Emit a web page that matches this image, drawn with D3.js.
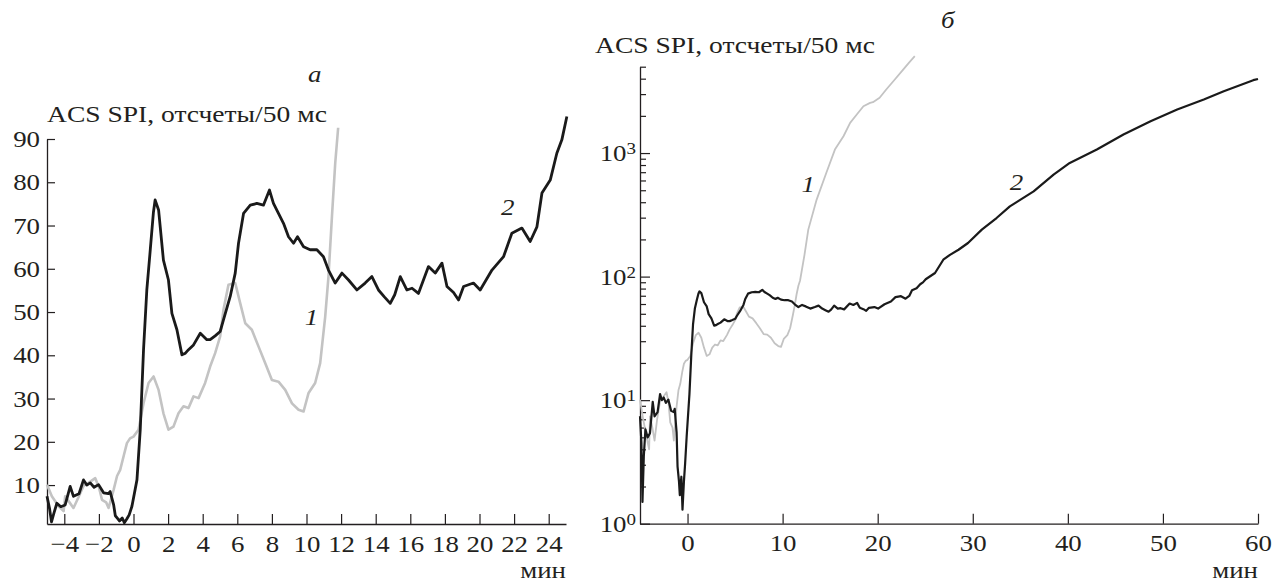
<!DOCTYPE html>
<html>
<head>
<meta charset="utf-8">
<script src="https://cdn.jsdelivr.net/npm/d3@7"></script>
<style>
body { margin: 0; background: #fff; }
</style>
</head>
<body>
<div class="canvas"></div>
<script>
// curve 1 (grey): minutes / counts per 50 ms
const time1 = [-5.0, -4.72, -4.33, -4.04, -3.95, -3.7, -3.47, -3.2, -2.89, -2.6, -2.21, -2.0, -1.82, -1.58, -1.44,
    -1.15, -0.95, -0.77, -0.55, -0.38, -0.2, 0, 0.29, 0.58, 0.87, 1.16, 1.45, 1.73, 2.02, 2.31, 2.6, 2.89, 3.18,
    3.47, 3.76, 4.14, 4.43, 4.72, 5.01, 5.2, 5.49, 5.88, 6.17, 6.46, 6.84, 7.23, 7.61, 8.0, 8.38, 8.77, 9.16, 9.54,
    9.83, 10.12, 10.5, 10.79, 11.08, 11.27, 11.47, 11.66, 11.83, 12.3, 12.7, 13.58, 14.6, 15.5, 16.4, 17.1, 17.8,
    18.5, 19.2, 19.5, 20.2, 20.9, 21.8, 22.7, 23.3, 23.9];
const counts1 = [10.1, 7.4, 5.1, 4.0, 7.4, 6.0, 4.7, 7.0, 9.8, 10.5, 11.6, 9.5, 6.6, 6.0, 4.7,
    8.9, 12.1, 13.5, 17, 19.7, 20.8, 21.2, 22.8, 28.9, 33.6, 35.1, 32, 26.6, 22.8, 23.5, 26.6, 28.2, 27.8,
    30.5, 30.1, 33.6, 37.4, 40.5, 44.4, 50.5, 56.3, 56.7, 52, 47.4, 45.9, 42, 38.2, 34.3, 33.9, 32, 28.9, 27.4,
    27, 31.3, 33.6, 38.2, 48.9, 58.2, 72, 84.4, 92.6, 150, 240, 420, 692, 1067, 1368, 1757, 2050,
    2393, 2550, 2580, 2800, 3270, 3940, 4750, 5400, 6080];

// curve 2 (black)
const time2 = [-5.0, -4.85, -4.74, -4.6, -4.43, -4.2, -3.95, -3.66, -3.47, -3.15, -2.89, -2.7, -2.5, -2.28, -2.02,
    -1.73, -1.45, -1.35, -1.15, -1.05, -0.9, -0.81, -0.65, -0.53, -0.38, -0.25, -0.09, 0.2, 0.39, 0.58, 0.77, 0.97,
    1.15, 1.25, 1.45, 1.73, 2.02, 2.22, 2.51, 2.8, 3.0, 3.18, 3.47, 3.86, 4.24, 4.43, 4.72, 5.01, 5.2, 5.59, 5.88,
    6.07, 6.36, 6.75, 7.13, 7.51, 7.86, 8.09, 8.38, 8.67, 8.96, 9.25, 9.48, 9.83, 10.21, 10.6, 10.98, 11.27, 11.66,
    12.05, 12.43, 12.91, 13.39, 13.78, 14.16, 14.5, 14.84, 15.1, 15.42, 15.8, 16.1, 16.47, 17.05, 17.44, 17.83,
    18.12, 18.5, 18.79, 19.08, 19.65, 20.04, 20.72, 21.39, 21.87, 22.45, 22.93, 23.32, 23.61, 24.09, 24.47, 24.76,
    25.05, 26.03, 26.9, 27.6, 28.5, 29.5, 30.95, 32.5, 33.9, 36.4, 38.5, 40.2, 43.05, 45.85, 48.7, 51.5, 54.3,
    56.4, 59.5, 60.0];
const counts2 = [7.4, 4.5, 1.5, 3.5, 5.8, 5.0, 5.4, 9.7, 7.4, 8.0, 11.2, 10.0, 10.5, 9.5, 10.1,
    8.2, 8.0, 8.5, 5.5, 2.9, 2.2, 1.7, 2.4, 1.3, 2.2, 3.1, 5.1, 11.2, 22.8, 41.3, 55.1, 64.4,
    73, 75.9, 73.6, 62, 57.4, 49.7, 45.9, 40.1, 40.5, 41.3, 42.4, 45.1, 43.6, 43.6, 44.5, 45.5, 48.2, 53.6, 59,
    65.9, 72.8, 74.7, 75.1, 74.7, 78.2, 75.1, 72.8, 70.5, 67.4, 65.9, 67.4, 65.1, 64.4, 64.4, 62.8, 59.7, 56.7,
    59, 57.4, 55.1, 56.7, 58.2, 55.1, 53.5, 52.0, 54, 58.2, 55.1, 55.5, 54.3, 60.5, 59, 61.3,
    55.9, 54.5, 52.8, 55.9, 56.7, 55.1, 59.7, 62.8, 68.2, 69.4, 66.3, 69.7, 77.5, 80.5, 86.7, 89.8,
    95.2, 107, 137, 150, 165, 187, 240, 298, 370, 490, 670, 832, 1067, 1413, 1812, 2250, 2716,
    3163, 3890, 3980];

// left panel shows each curve only up to these minutes
const endA1 = 11.9;
const endA2 = 25.1;

const ticksXA = [-4, -2, 0, 2, 4, 6, 8, 10, 12, 14, 16, 18, 20, 22, 24];
const ticksYA = [10, 20, 30, 40, 50, 60, 70, 80, 90];
const ticksXB = [0, 10, 20, 30, 40, 50, 60];

const yTitle = 'ACS SPI, отсчеты/50 мс';
const xTitle = 'мин';

const ink = '#231f20';
const grey = '#c3c3c3';
const serif = '"Liberation Serif", "DejaVu Serif", "Times New Roman", serif';
const stretch = 1.12; // the scanned type is a bit wider than Liberation Serif

const svg = d3.select('.canvas').append('svg')
    .attr('width', 1279)
    .attr('height', 583)
    .style('font-family', serif);

const pts1 = time1.map((t, i) => ({ t, v: counts1[i] }));
const pts2 = time2.map((t, i) => ({ t, v: counts2[i] }));

// ---- panel a (linear) ----
const dimA = { left: 47, right: 566, top: 139, bottom: 524 };
const xA = d3.scaleLinear().domain([-5, 25]).range([dimA.left, dimA.right]);
const yA = d3.scaleLinear().domain([1, 90]).range([dimA.bottom, dimA.top]);

const gxA = svg.append('g')
    .attr('transform', `translate(0, ${dimA.bottom})`)
    .call(d3.axisBottom(xA).tickValues(ticksXA).tickSize(-10).tickSizeOuter(0).tickPadding(11));
const gyA = svg.append('g')
    .attr('transform', `translate(${dimA.left}, 0)`)
    .call(d3.axisLeft(yA).tickValues(ticksYA).tickSize(-8).tickSizeOuter(0).tickPadding(7));

const lineA = d3.line().x(d => xA(d.t)).y(d => yA(d.v));

svg.append('path')
    .attr('d', lineA(pts1.filter(d => d.t <= endA1)))
    .attr('fill', 'none').attr('stroke', grey).attr('stroke-width', 2.6)
    .attr('stroke-linejoin', 'round');
svg.append('path')
    .attr('d', lineA(pts2.filter(d => d.t <= endA2)))
    .attr('fill', 'none').attr('stroke', '#1a1a1a').attr('stroke-width', 2.8)
    .attr('stroke-linejoin', 'round');

// ---- panel b (log) ----
const dimB = { left: 640, right: 1258, top: 66.7, bottom: 523.7 };
const xB = d3.scaleLinear().domain([-5, 60]).range([dimB.left, dimB.right]);
const yB = d3.scaleLog().domain([1, 5000]).range([dimB.bottom, dimB.top]);

const gxB = svg.append('g')
    .attr('transform', `translate(0, ${dimB.bottom})`)
    .call(d3.axisBottom(xB).tickValues(ticksXB).tickSize(-10).tickSizeOuter(0).tickPadding(10));
const gyB = svg.append('g')
    .attr('transform', `translate(${dimB.left}, 0)`)
    .call(d3.axisLeft(yB).tickSize(-6).tickSizeOuter(0).tickPadding(4).tickFormat(() => ''));

// powers of ten get a longer tick and a 10^n label
gyB.selectAll('.tick').each(function (d) {
    const p = Math.log10(d);
    const major = Math.abs(p - Math.round(p)) < 1e-9;
    const tick = d3.select(this);
    if (!major) return;
    tick.select('line').attr('x2', 10);
    const label = tick.select('text').text('10');
    label.append('tspan')
        .attr('dy', '-0.42em')
        .style('font-size', '17px')
        .text(Math.round(p));
});

const lineB = d3.line().x(d => xB(d.t)).y(d => yB(d.v));

svg.append('path')
    .attr('d', lineB(pts1))
    .attr('fill', 'none').attr('stroke', grey).attr('stroke-width', 1.8)
    .attr('stroke-linejoin', 'round');
svg.append('path')
    .attr('d', lineB(pts2))
    .attr('fill', 'none').attr('stroke', '#1a1a1a').attr('stroke-width', 2.2)
    .attr('stroke-linejoin', 'round');

// axis colours
[gxA, gyA, gxB, gyB].forEach(g => {
    g.attr('color', ink).attr('font-family', null).attr('font-size', null);
    g.select('.domain').attr('stroke-width', 1.3);
    g.selectAll('.tick line').attr('stroke-width', 1.2);
});

// ---- texts ----
svg.append('text').attr('class', 'title').attr('x', dimA.left).attr('y', 122).text(yTitle);
svg.append('text').attr('class', 'title').attr('x', 595).attr('y', 53).text(yTitle);
svg.append('text').attr('x', dimA.right).attr('y', 578).attr('text-anchor', 'end').text(xTitle);
svg.append('text').attr('x', dimB.right).attr('y', 578).attr('text-anchor', 'end').text(xTitle);

svg.append('text').attr('x', 308).attr('y', 82).style('font-style', 'italic').text('а');
svg.append('text').attr('x', 941).attr('y', 28).style('font-style', 'italic').text('б');

// curve numbers
svg.append('text').attr('x', xA(9.9)).attr('y', yA(47)).style('font-style', 'italic').text('1');
svg.append('text').attr('x', xA(21.25)).attr('y', yA(72.4)).style('font-style', 'italic').text('2');
svg.append('text').attr('x', xB(12.0)).attr('y', yB(480)).style('font-style', 'italic').text('1');
svg.append('text').attr('x', xB(33.9)).attr('y', yB(506)).style('font-style', 'italic').text('2');

svg.selectAll('text')
    .style('font-family', serif)
    .style('font-size', '24px')
    .style('fill', ink);

// widen the glyphs horizontally around each label's anchor point
svg.selectAll('text').each(function () {
    const el = d3.select(this);
    const ax = +(el.attr('x') || 0);
    const s = this.classList.contains('title') ? 280 / this.getComputedTextLength() : stretch;
    el.attr('transform', `translate(${ax},0) scale(${s},1) translate(${-ax},0)`);
});
</script>
</body>
</html>
